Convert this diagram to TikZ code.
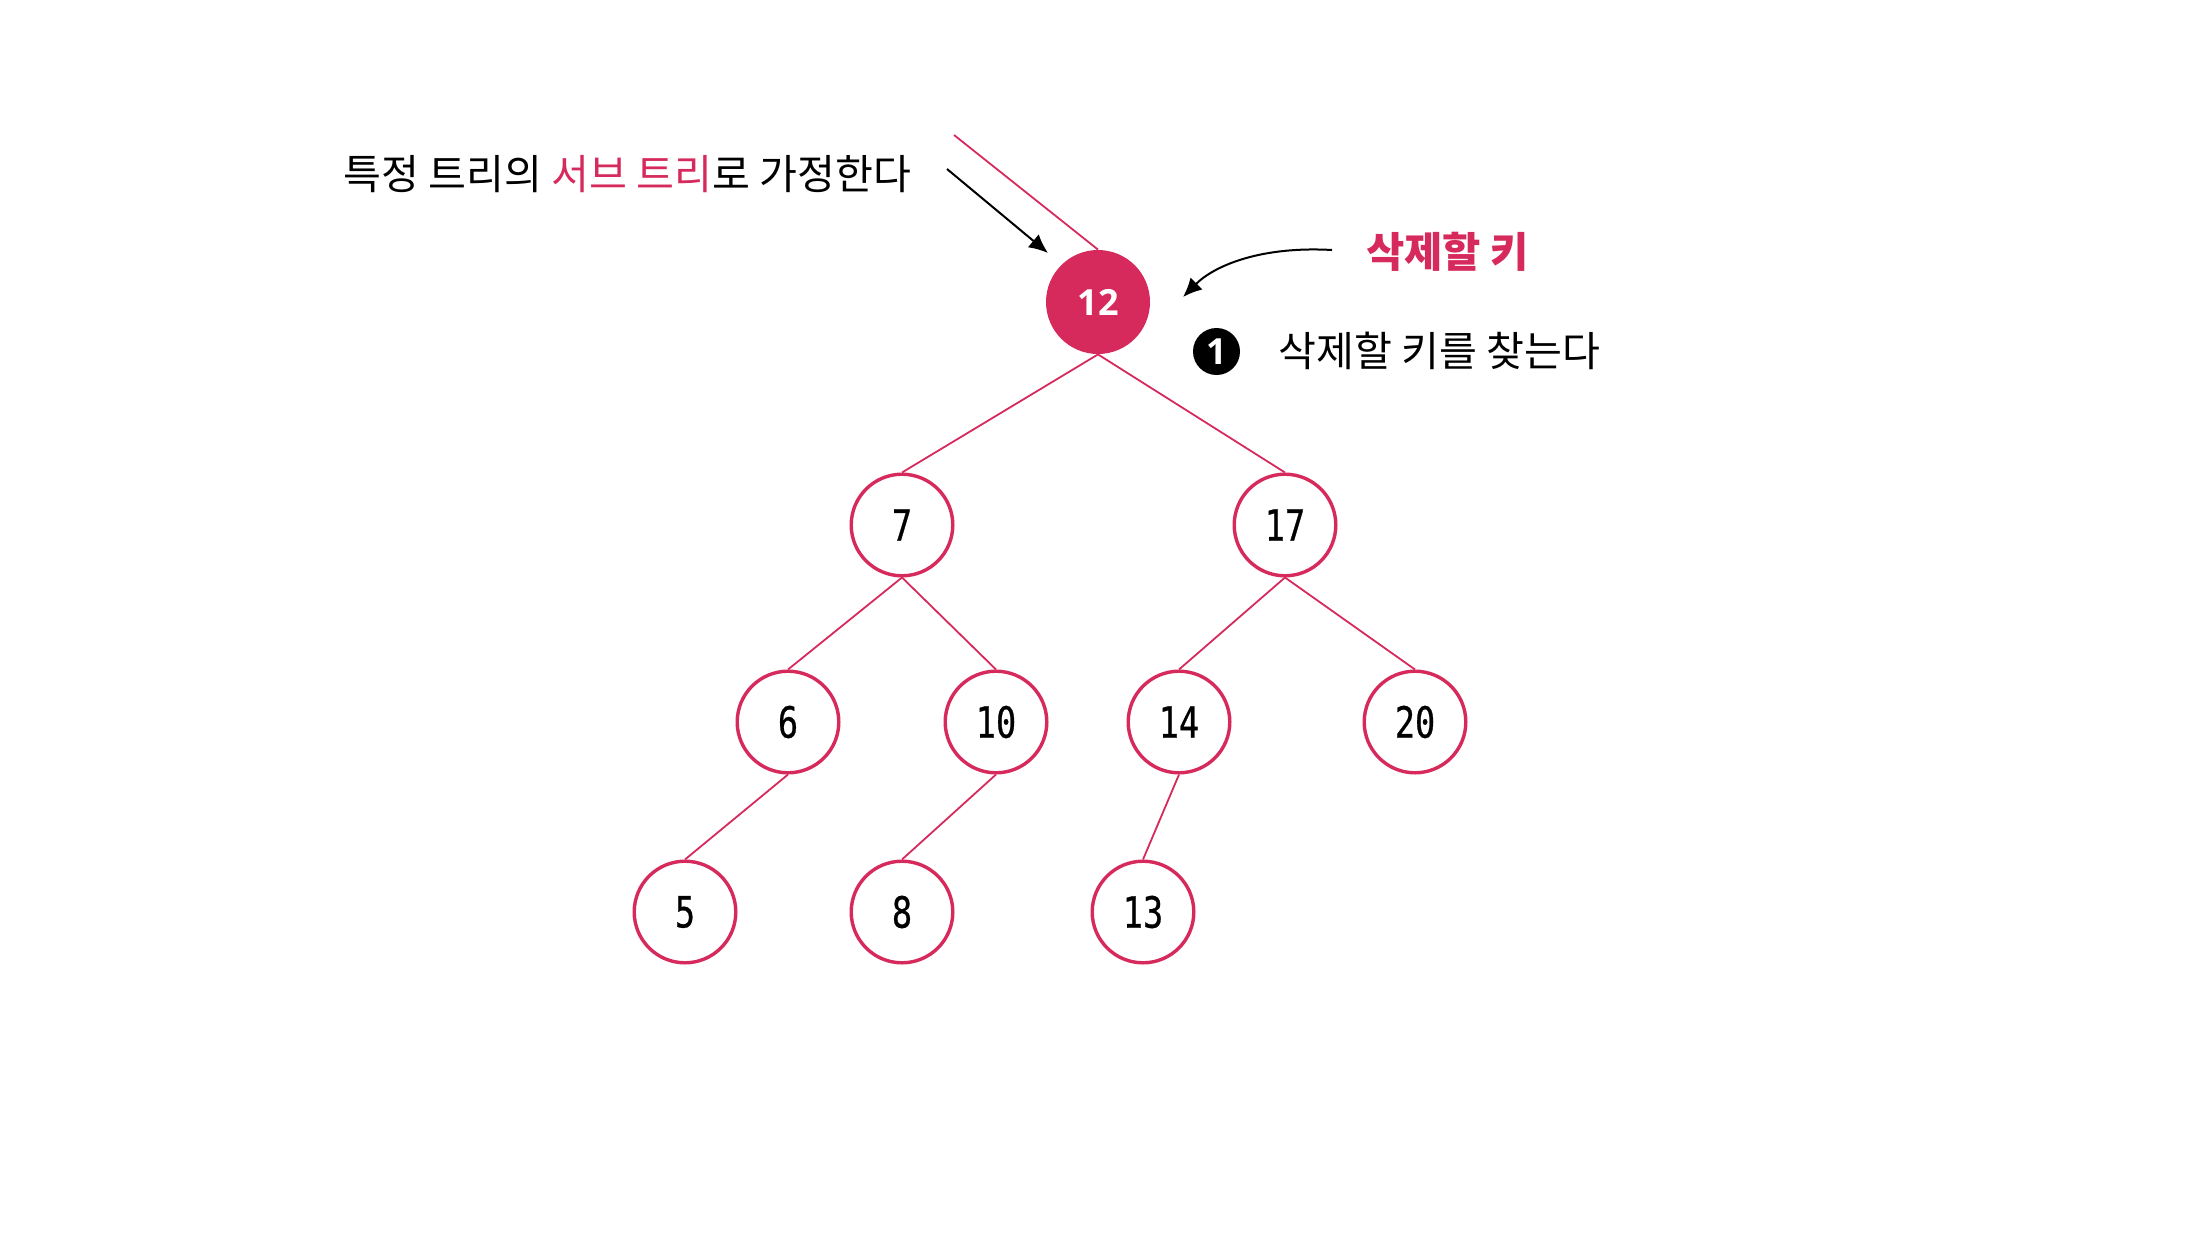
\documentclass[tikz,border=0pt]{standalone}
\usepackage{fontspec}
\usetikzlibrary{arrows.meta}
\newfontfamily\kr{Noto Sans CJK KR}
\newfontfamily\numfont[FakeStretch=0.78,FakeBold=0.6]{DejaVu Sans Mono}
\newfontfamily\boldnum{Open Sans}
\definecolor{pk}{RGB}{214,42,92}
\tikzset{
  x=0.5pt, y=-0.5pt,
  keynode/.style={circle, draw=pk, line width=1.7pt, fill=white, minimum size=50.8pt, inner sep=0pt, font=\numfont\fontsize{21.5}{23}\selectfont},
  rootnode/.style={circle, fill=pk, minimum size=52pt, inner sep=0pt, text=white, font=\boldnum\bfseries\fontsize{18}{19}\selectfont},
  edge/.style={draw=pk, line width=0.9pt},
  blackarrow/.style={draw=black, line width=1pt, -{Latex[length=9.5pt,width=8.5pt]}},
  label/.style={font=\kr\fontsize{20.6}{22}\selectfont, inner sep=0pt},
  numbadge/.style={circle, fill=black, minimum size=23.5pt, inner sep=0pt, text=white, font=\boldnum\bfseries\fontsize{18}{19}\selectfont}
}
\begin{document}
\begin{tikzpicture}
\path[use as bounding box] (0,0) rectangle (2196,1232);
% nodes
\node[rootnode] (n12) at (1098,302) {12};
\node[keynode] (n7) at (902,525) {7};
\node[keynode] (n17) at (1285,525) {17};
\node[keynode] (n6) at (788,722) {6};
\node[keynode] (n10) at (996,722) {10};
\node[keynode] (n14) at (1179,722) {14};
\node[keynode] (n20) at (1415,722) {20};
\node[keynode] (n5) at (685,912) {5};
\node[keynode] (n8) at (902,912) {8};
\node[keynode] (n13) at (1143,912) {13};
% edges
\coordinate (parentin) at (954,135);
\draw[edge] (parentin) -- (n12.north);
\draw[edge] (n12.south) -- (n7.north);
\draw[edge] (n12.south) -- (n17.north);
\draw[edge] (n7.south) -- (n6.north);
\draw[edge] (n7.south) -- (n10.north);
\draw[edge] (n17.south) -- (n14.north);
\draw[edge] (n17.south) -- (n20.north);
\draw[edge] (n6.south) -- (n5.north);
\draw[edge] (n10.south) -- (n8.north);
\draw[edge] (n14.south) -- (n13.north);
% labels
\node[label, anchor=base west] (subtxt) at (343,189) {특정 트리의 \textcolor{pk}{서브 트리}로 가정한다};
\node[label, anchor=base west, font=\kr\bfseries\fontsize{20.8}{22}\selectfont, text=pk] (deltxt) at (1366,267) {삭제할 키};
\node[numbadge] (badge) at (1216.5,351.5) {1};
\node[label, anchor=base west] (steptxt) at (1278,366) {삭제할 키를 찾는다};
% arrows
\coordinate (a1s) at (947,169);
\coordinate (a1e) at (1048,253);
\draw[blackarrow] (a1s) -- (a1e);
\coordinate (a2s) at (1332,250);
\coordinate (a2e) at (1183,297);
\draw[blackarrow] (a2s) .. controls (1262,246) and (1215,265) .. (a2e);
\end{tikzpicture}
\end{document}
